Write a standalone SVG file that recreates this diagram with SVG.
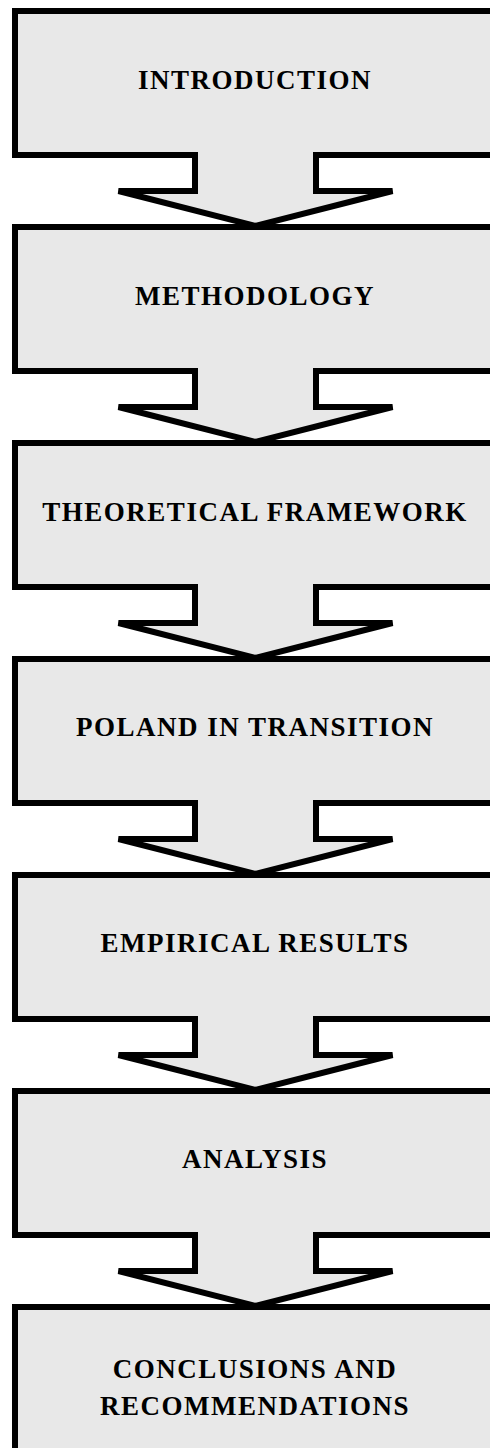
<svg xmlns="http://www.w3.org/2000/svg" width="490" height="1448" viewBox="0 0 490 1448">
<style>
.box{fill:#e8e8e8;stroke:#000;stroke-width:6;stroke-linejoin:miter}
.arr{fill:#e8e8e8;stroke:#000;stroke-width:6;stroke-linejoin:miter}
.lbl{font-family:"Liberation Serif","Times New Roman",serif;font-weight:bold;font-size:27px;letter-spacing:1.5px;fill:#000;text-anchor:middle}
</style>
<rect x="0" y="0" width="490" height="1448" fill="#fff"/>
<g id="node-introduction"><rect class="box" x="15" y="11" width="520" height="144"/><text class="lbl" x="255" y="89">INTRODUCTION</text></g>
<g id="node-methodology"><rect class="box" x="15" y="227" width="520" height="144"/><text class="lbl" x="255" y="305">METHODOLOGY</text></g>
<g id="node-theoretical-framework"><rect class="box" x="15" y="443" width="520" height="144"/><text class="lbl" x="255" y="521">THEORETICAL FRAMEWORK</text></g>
<g id="node-poland-in-transition"><rect class="box" x="15" y="659" width="520" height="144"/><text class="lbl" x="255" y="736">POLAND IN TRANSITION</text></g>
<g id="node-empirical-results"><rect class="box" x="15" y="875" width="520" height="144"/><text class="lbl" x="255" y="952">EMPIRICAL RESULTS</text></g>
<g id="node-analysis"><rect class="box" x="15" y="1091" width="520" height="144"/><text class="lbl" x="255" y="1168">ANALYSIS</text></g>
<g id="node-conclusions"><rect class="box" x="15" y="1307" width="520" height="200"/><text class="lbl" x="255" y="1378">CONCLUSIONS AND</text><text class="lbl" x="255" y="1415">RECOMMENDATIONS</text></g>
<g id="connectors">
<path class="arr" d="M195,152 V191 H118.5 L255.5,226 L392.5,191 H316 V152"/>
<path class="arr" d="M195,368 V407 H118.5 L255.5,442 L392.5,407 H316 V368"/>
<path class="arr" d="M195,584 V623 H118.5 L255.5,658 L392.5,623 H316 V584"/>
<path class="arr" d="M195,800 V839 H118.5 L255.5,874 L392.5,839 H316 V800"/>
<path class="arr" d="M195,1016 V1055 H118.5 L255.5,1090 L392.5,1055 H316 V1016"/>
<path class="arr" d="M195,1232 V1271 H118.5 L255.5,1306 L392.5,1271 H316 V1232"/>
</g>
</svg>
